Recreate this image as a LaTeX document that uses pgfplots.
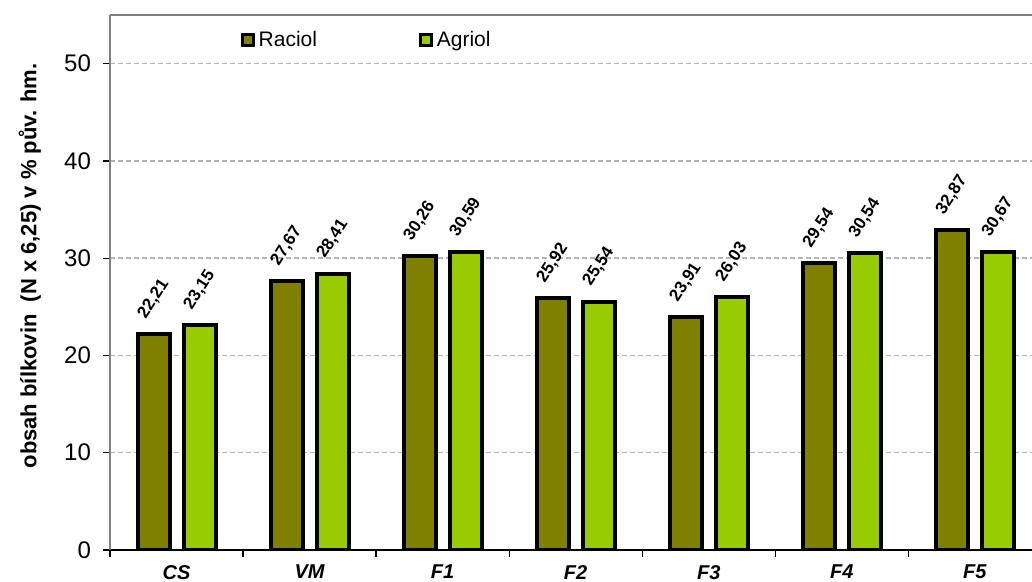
\documentclass[border=0pt]{standalone}
\usepackage{pgfplots}
\pgfplotsset{compat=1.18}
\usepackage{fontspec}
\setmainfont{Liberation Sans}
\definecolor{raciol}{HTML}{808000}
\definecolor{agriol}{HTML}{99CC00}
\definecolor{gridc}{HTML}{B4B4B4}
\begin{document}
\begin{tikzpicture}
\begin{axis}[
  name=ax,
  scale only axis,
  width=461pt, height=267.5pt,
  ymin=0, ymax=55,
  xmin=-0.5, xmax=6.43,
  ytick={0,10,20,30,40,50},
  xtick={-0.5,0.5,1.5,2.5,3.5,4.5,5.5},
  xticklabels={},
  extra x ticks={0,1,2,3,4,5,6},
  extra x tick labels={CS,VM,F1,F2,F3,F4,F5},
  extra x tick style={major tick length=0pt, grid=none,
    xticklabel style={font=\fontsize{10}{12}\selectfont\bfseries\itshape, yshift=-4pt}},
  axis x line*=bottom,
  axis y line*=left,
  x axis line style={black, line width=0.8pt},
  y axis line style={gray, line width=0.8pt},
  tick align=outside,
  major tick length=3.5pt,
  tick style={black, line width=0.6pt},
  ymajorgrids,
  major grid style={gridc, line width=0.7pt, dash pattern=on 2.5pt off 1.5pt},
  yticklabel style={font=\fontsize{12}{14}\selectfont, xshift=-2.5pt},
  /pgf/number format/assume math mode=true,
  every axis y label/.style={at={(axis description cs:-0.087,0.531)}, rotate=90, anchor=center},
  ylabel={obsah bílkovin\ \ (N x 6,25) v \% pův. hm.},
  ylabel style={font=\fontsize{11}{13}\selectfont\bfseries},
  ybar=7pt,
  bar width=16pt,
  nodes near coords={\pgfmathprintnumber[fixed,fixed zerofill,precision=2,use comma,assume math mode=true]{\pgfplotspointmeta}},
  every node near coord/.append style={font=\fontsize{8.5}{10}\selectfont\bfseries, black, anchor=center, yshift=17.5pt, rotate=57},
  legend columns=2,
  legend style={draw=none, fill=none, at={(rel axis cs:0.135,0.953)}, anchor=west,
    font=\fontsize{10.5}{12}\selectfont,
    /tikz/every even column/.append style={column sep=49pt}},
  legend image code/.code={\draw[#1, line width=1.4pt] (0pt,-2.75pt) rectangle (5.5pt,2.75pt);},
]
\addplot[draw=black, fill=raciol, line width=2pt] coordinates {(0,22.21) (1,27.67) (2,30.26) (3,25.92) (4,23.91) (5,29.54) (6,32.87)};
\addplot[draw=black, fill=agriol, line width=2pt] coordinates {(0,23.15) (1,28.41) (2,30.59) (3,25.54) (4,26.03) (5,30.54) (6,30.67)};
\legend{Raciol,Agriol}
\end{axis}
\draw[gray, line width=0.8pt] (ax.north west) -- (ax.north east);
\pgfresetboundingbox
\path[use as bounding box] ([shift={(-55pt,-16pt)}]ax.south west) rectangle ([shift={(0pt,7.5pt)}]ax.north east);
\end{tikzpicture}
\end{document}
